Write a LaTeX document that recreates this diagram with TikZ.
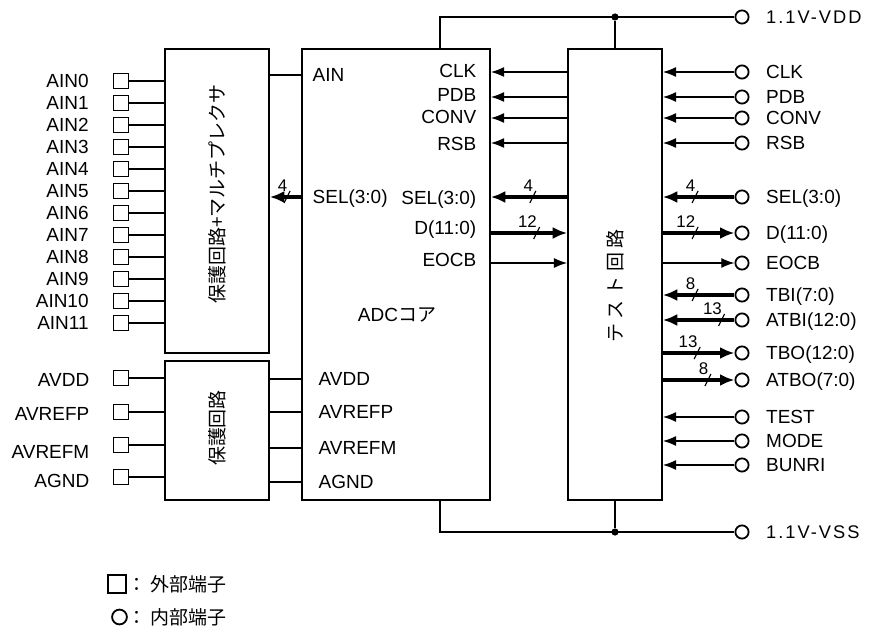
\documentclass[tikz,border=0pt]{standalone}
\usepackage{fontspec}
\setmainfont{Liberation Sans}
\newfontfamily\jp{Noto Sans CJK JP}
\newfontfamily\jpsp[LetterSpace=25]{Noto Sans CJK JP}
\newfontfamily\spaced[LetterSpace=11]{Liberation Sans}
\usetikzlibrary{arrows.meta, positioning, calc}
\tikzset{>=Latex}

\begin{document}
\begin{tikzpicture}[x=0.025cm, y=-0.025cm, line width=1pt,
    font=\fontsize{13.5}{16}\selectfont,
    block/.style={draw, line width=1.2pt, inner sep=0pt},
    pad/.style={draw, line width=1.4pt, minimum size=0.375cm, inner sep=0pt},
    term/.style={draw, circle, line width=1.3pt, minimum size=0.33cm, inner sep=0pt},
    lbl/.style={inner sep=0pt, text height=9.7pt, text depth=0pt},
    jpf/.style={inner sep=0pt, font=\fontsize{13.5}{16}\selectfont\jp},
    thinarr/.style={-{Latex[length=0.33cm, width=0.25cm]}},
    busarr/.style={line width=2.6pt, -{Latex[length=0.36cm, width=0.3cm]}},
    junction/.style={circle, fill, minimum size=0.18cm, inner sep=0pt},
    pics/buswd/.style={code={
        \draw[-, line width=0.8pt] (-3,6) -- (3,-6);
        \node[inner sep=0pt, anchor=south east, font=\fontsize{12}{14}\selectfont] at (2,-4) {#1};}}
  ]

  \useasboundingbox (0,0) rectangle (869,630);

  % Bloecke
  \node[block, minimum width=2.6cm, minimum height=7.6cm] (mux) at (217,201) {};
  \node[block, minimum width=2.6cm, minimum height=3.475cm] (prot) at (217,430.5) {};
  \node[block, minimum width=4.7cm, minimum height=11.275cm] (adc) at (396,274.5) {};
  \node[block, minimum width=2.35cm, minimum height=11.275cm] (test) at (615,274.5) {};

  \node[jpf, rotate=90] (muxName) at (217,194) {保護回路+マルチプレクサ};
  \node[jpf, rotate=90] (protName) at (217,428) {保護回路};
  \node[inner sep=0pt, rotate=90, font=\fontsize{13.5}{16}\selectfont\jpsp] (testName) at (615,286) {テスト回路};
  \node[inner sep=0pt] (adcName) at (397,315) {ADC{\jp コア}};

  % Analogeingaenge links
  \foreach \i in {0,...,11} {
    \node[pad] (a\i) at (121,{81+22*\i}) {};
    \node[lbl, left=0.58cm of a\i] (la\i) {AIN\i};
    \draw (a\i) -- (mux.west |- a\i);
  }
  \foreach \nm/\y/\ty in {AVDD/378/380, AVREFP/412/414, AVREFM/445/452, AGND/477/481} {
    \node[pad] (s\nm) at (121,\y) {};
    \node[lbl, anchor=east] (ls\nm) at (90,\ty) {\nm};
    \draw (s\nm) -- (prot.west |- s\nm);
  }

  % Anschluesse der ADC-Kern
  \node[lbl, anchor=west] (pAIN) at (312,75) {AIN};
  \node[lbl, anchor=west] (pSEL) at (312,197) {SEL(3:0)};
  \foreach \nm/\y in {AVDD/379, AVREFP/412, AVREFM/448, AGND/482} {
    \node[lbl, anchor=west] (p\nm) at (318,\y) {\nm};
    \draw (prot.east |- p\nm) -- (adc.west |- p\nm);
  }
  \foreach \nm/\y/\txt in {CLK/71/CLK, PDB/95/PDB, CONV/117/CONV, RSB/144/RSB,
      SEL/198/SEL(3:0), D/228/D(11:0), EOCB/260/EOCB} {
    \node[lbl, anchor=east] (q\nm) at (477,\y) {\txt};
  }
  \draw (mux.east |- pAIN) -- (adc.west |- pAIN);
  \draw[busarr] (adc.west |- pSEL) -- (mux.east |- pSEL) pic[pos=0.45] {buswd=4};

  % interne Anschluesse rechts
  \foreach \nm/\y/\txt in {CLK/72/CLK, PDB/97/PDB, CONV/118/CONV, RSB/143/RSB,
      SEL/197/SEL(3:0), D/233/D(11:0), EOCB/263/EOCB, TBI/295/TBI(7:0),
      ATBI/320/ATBI(12:0), TBO/353/TBO(12:0), ATBO/380/ATBO(7:0),
      TEST/417/TEST, MODE/441/MODE, BUNRI/465/BUNRI} {
    \node[term] (c\nm) at (742,\y) {};
    \node[lbl, right=0.4cm of c\nm] (lc\nm) {\txt};
  }

  % ADC <-> Testschaltung
  \foreach \nm in {CLK, PDB, CONV, RSB}
    \draw[thinarr] (test.west |- c\nm) -- (adc.east |- c\nm);
  \draw[busarr] (test.west |- cSEL) -- (adc.east |- cSEL) pic[pos=0.45] {buswd=4};
  \draw[busarr] (adc.east |- cD) -- (test.west |- cD) pic[pos=0.6] {buswd=12};
  \draw[thinarr] (adc.east |- cEOCB) -- (test.west |- cEOCB);

  % Testschaltung <-> Anschluesse
  \foreach \nm in {CLK, PDB, CONV, RSB, TEST, MODE, BUNRI}
    \draw[thinarr] (c\nm) -- (test.east |- c\nm);
  \draw[busarr] (cSEL) -- (test.east |- cSEL) pic[pos=0.55] {buswd=4};
  \draw[busarr] (test.east |- cD) -- (cD) pic[pos=0.45] {buswd=12};
  \draw[thinarr] (test.east |- cEOCB) -- (cEOCB);
  \draw[busarr] (cTBI) -- (test.east |- cTBI) pic[pos=0.55] {buswd=8};
  \draw[busarr] (cATBI) -- (test.east |- cATBI) pic[pos=0.18] {buswd=13};
  \draw[busarr] (test.east |- cTBO) -- (cTBO) pic[pos=0.48] {buswd=13};
  \draw[busarr] (test.east |- cATBO) -- (cATBO) pic[pos=0.63] {buswd=8};

  % Versorgung
  \node[term] (cVDD) at (742,17) {};
  \node[inner sep=0pt, right=0.4cm of cVDD, font=\fontsize{13}{16}\selectfont\spaced] (lVDD) {1.1V-VDD};
  \node[junction] (jVDD) at (test.north |- cVDD) {};
  \coordinate (vddA) at (440,17);
  \draw (vddA |- adc.north) -- (vddA) -- (cVDD);
  \draw (jVDD) -- (test.north);

  \node[term] (cVSS) at (742,532) {};
  \node[inner sep=0pt, right=0.4cm of cVSS, font=\fontsize{13}{16}\selectfont\spaced] (lVSS) {1.1V-VSS};
  \node[junction] (jVSS) at (test.south |- cVSS) {};
  \coordinate (vssA) at (440,532);
  \draw (vssA |- adc.south) -- (vssA) -- (cVSS);
  \draw (jVSS) -- (test.south);

  % Legende
  \node[pad, minimum size=0.45cm] (lgPad) at (117,584) {};
  \node[jpf, anchor=west] (lgPadTxt) at (lgPad.east) {：\hspace{0.1cm}外部端子};
  \node[term, minimum size=0.37cm] (lgTerm) at (119.5,617) {};
  \node[jpf, anchor=west] (lgTermTxt) at (lgPadTxt.west |- lgTerm) {：\hspace{0.1cm}内部端子};

\end{tikzpicture}
\end{document}
